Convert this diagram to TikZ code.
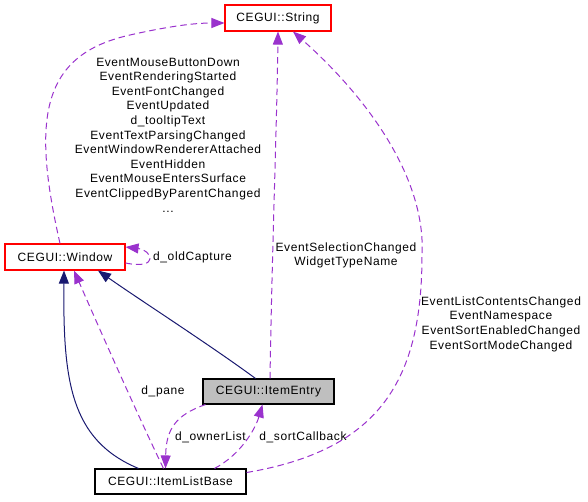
\documentclass[tikz,border=0pt]{standalone}
\usepackage{fontspec}
\setmainfont[LetterSpace=5]{Liberation Sans}
\usetikzlibrary{arrows.meta}
\definecolor{orchid}{HTML}{9A32CD}
\definecolor{navy}{HTML}{191970}
\definecolor{boxgray}{HTML}{BFBFBF}
\definecolor{boxred}{HTML}{FF0000}
\tikzset{
  classbox/.style={draw, line width=1.1pt, inner sep=0pt, minimum height=26pt, font=\fontsize{12}{14.6}\selectfont},
  redbox/.style={classbox, draw=boxred},
  member/.style={orchid, line width=1pt, dash pattern=on 6.5pt off 4pt, -{Triangle[length=13pt, width=10pt]}},
  inherit/.style={navy, line width=1pt, -{Triangle[length=13pt, width=10pt]}},
  edgelabel/.style={align=center, inner sep=0pt, font=\fontsize{12}{14.6}\selectfont}
}
\begin{document}
\begin{tikzpicture}[x=1pt, y=-1pt]
  \useasboundingbox (0,0) rectangle (588,501);
  \node [redbox, minimum width=106pt] (str) at (278,18) {CEGUI::String};
  \node [redbox, minimum width=120pt] (win) at (65,257) {CEGUI::Window};
  \node [classbox, fill=boxgray, minimum width=131pt, minimum height=25pt] (entry) at (268.5,391.5) {CEGUI::ItemEntry};
  \node [classbox, minimum width=151pt, minimum height=25pt] (base) at (170.5,481.5) {CEGUI::ItemListBase};
  \node [edgelabel] (winstr) at (168,135) {EventMouseButtonDown\\EventRenderingStarted\\EventFontChanged\\EventUpdated\\d\_tooltipText\\EventTextParsingChanged\\EventWindowRendererAttached\\EventHidden\\EventMouseEntersSurface\\EventClippedByParentChanged\\...};
  \node [edgelabel, anchor=west] (capture) at (153,257) {d\_oldCapture};
  \node [edgelabel] (entrystr) at (346,255.5) {EventSelectionChanged\\WidgetTypeName};
  \node [edgelabel] (basestr) at (501,324) {EventListContentsChanged\\EventNamespace\\EventSortEnabledChanged\\EventSortModeChanged};
  \node [edgelabel] (pane) at (163,391) {d\_pane};
  \node [edgelabel] (owner) at (210.5,437) {d\_ownerList};
  \node [edgelabel] (sort) at (303,437) {d\_sortCallback};
  \draw [member] ([xshift=-5pt]win.north) .. controls (32,120) and (40,55) .. (130,35) .. controls (170,26) and (195,23) .. ([yshift=-5pt]str.west);
  \draw [member] ([yshift=-6pt]win.east) .. controls (160,270) and (152,250) .. ([yshift=10pt]win.east);
  \draw [inherit] ([xshift=-13pt]entry.north) .. controls (210,345) and (140,300) .. ([xshift=33pt]win.south);
  \draw [member] ([xshift=1.5pt]entry.north) .. controls (272,250) and (277,120) .. (str.south);
  \draw [inherit] ([xshift=-32pt]base.north) .. controls (70,440) and (63,380) .. ([xshift=-1pt]win.south);
  \draw [member] ([xshift=-7pt]base.north) .. controls (140,420) and (100,330) .. ([xshift=9pt]win.south);
  \draw [member] ([xshift=-63pt]entry.south) .. controls (175,415) and (166,430) .. ([xshift=-5pt]base.north);
  \draw [member] ([xshift=44pt]base.north) .. controls (240,455) and (255,430) .. ([xshift=-6pt]entry.south);
  \draw [member] ([yshift=9pt]base.east) .. controls (380,450) and (422,380) .. (422,255) .. controls (426,180) and (370,100) .. ([xshift=15pt]str.south);
\end{tikzpicture}
\end{document}
